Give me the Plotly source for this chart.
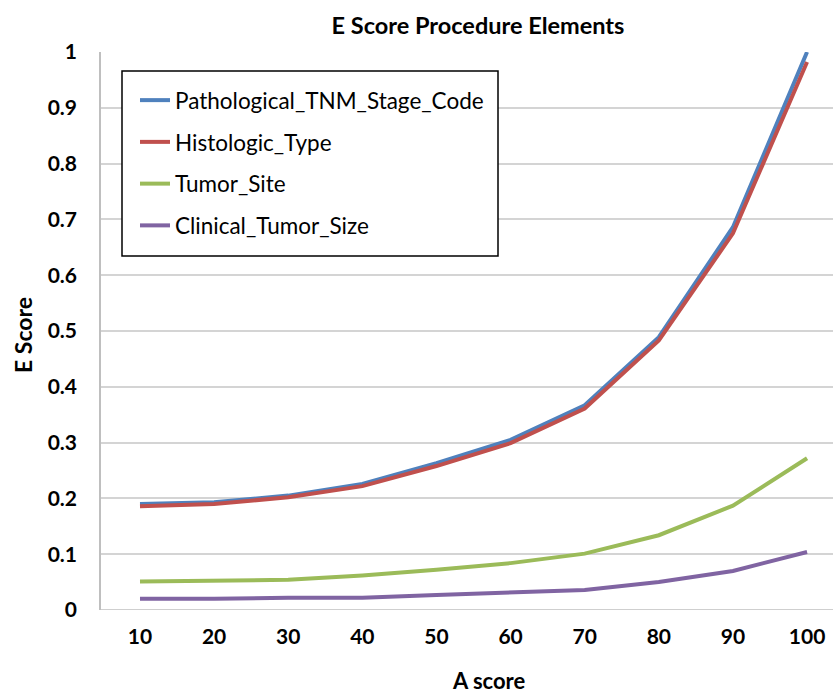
import plotly.graph_objects as go

# A score categories on the x axis
a_score = [10, 20, 30, 40, 50, 60, 70, 80, 90, 100]

# E score for each procedure element
pathological_tnm = [0.190, 0.193, 0.205, 0.226, 0.263, 0.305, 0.367, 0.489, 0.686, 1.000]
histologic_type = [0.186, 0.190, 0.202, 0.222, 0.258, 0.299, 0.361, 0.483, 0.675, 0.982]
tumor_site = [0.051, 0.052, 0.054, 0.062, 0.072, 0.084, 0.101, 0.134, 0.187, 0.272]
clinical_tumor_size = [0.020, 0.020, 0.022, 0.022, 0.027, 0.032, 0.036, 0.050, 0.070, 0.104]

series = [
    ("Pathological_TNM_Stage_Code", pathological_tnm, "#4F81BD"),
    ("Histologic_Type", histologic_type, "#C0504D"),
    ("Tumor_Site", tumor_site, "#9BBB59"),
    ("Clinical_Tumor_Size", clinical_tumor_size, "#8064A2"),
]

y_ticks = [0, 0.1, 0.2, 0.3, 0.4, 0.5, 0.6, 0.7, 0.8, 0.9, 1]
y_tick_text = ["0", "0.1", "0.2", "0.3", "0.4", "0.5", "0.6", "0.7", "0.8", "0.9", "1"]

FONT = "Lato"
W, H = 833, 693
L, R, T, B = 101, 0, 52, 83
PW, PH = W - L - R, H - T - B


def px(x):
    """Horizontal pixel position -> paper coordinate."""
    return (x - L) / PW


def py(y):
    """Vertical pixel position -> paper coordinate."""
    return (H - B - y) / PH


fig = go.Figure()
for i, (name, values, color) in enumerate(series):
    fig.add_trace(go.Scatter(
        x=a_score, y=values, name=name, mode="lines",
        line=dict(color=color, width=4),
        legendgroup=f"g{i}",
        cliponaxis=False,
    ))

fig.update_layout(
    width=W, height=H,
    margin=dict(l=L, r=R, t=T, b=B),
    paper_bgcolor="white", plot_bgcolor="white",
    font=dict(family=FONT, color="black"),
    title=dict(
        text="<b>E Score Procedure Elements</b>",
        x=px(478), xref="paper", xanchor="center",
        y=1 - 26 / H, yanchor="middle",
        font=dict(size=23.5, family=FONT, color="black"),
    ),
    showlegend=True,
    legend=dict(
        x=px(135), y=py(79), xanchor="left", yanchor="top",
        bgcolor="rgba(0,0,0,0)", borderwidth=0,
        font=dict(size=22.5, family=FONT, color="black"),
        tracegroupgap=9.5,
        itemwidth=30,
    ),
    xaxis=dict(
        range=[4.74, 103.5],
        tickvals=a_score,
        ticktext=[f"<b>{v}</b>" for v in a_score],
        tickfont=dict(size=21, family=FONT),
        showgrid=False, zeroline=False,
        showline=False, ticks="",
        ticklabelstandoff=12,
    ),
    yaxis=dict(
        range=[0, 1],
        tickvals=y_ticks,
        ticktext=[f"<b>{t}</b>" for t in y_tick_text],
        tickfont=dict(size=21, family=FONT),
        showgrid=True, gridcolor="#D4D4D4", gridwidth=1.5,
        zeroline=False,
        showline=True, linecolor="#BFBFBF", linewidth=1.5,
        ticks="", ticklabelstandoff=18,
    ),
    annotations=[
        dict(text="<b>A score</b>", xref="paper", yref="paper",
             x=px(488), y=py(680), xanchor="center", yanchor="middle",
             showarrow=False, font=dict(size=22, family=FONT)),
        dict(text="<b>E Score</b>", xref="paper", yref="paper",
             x=px(23), y=py(335), xanchor="center", yanchor="middle",
             textangle=-90, showarrow=False, font=dict(size=23, family=FONT)),
    ],
    shapes=[
        # bottom axis line at E score 0
        dict(type="line", xref="paper", yref="y", x0=0, x1=1, y0=0, y1=0,
             line=dict(color="#BFBFBF", width=1.5), layer="below"),
        # legend frame
        dict(type="rect", xref="paper", yref="paper",
             x0=px(122), x1=px(498), y0=py(256), y1=py(71),
             fillcolor="white", line=dict(color="black", width=1.5), layer="above"),
    ],
)

fig.write_html("out.html")
